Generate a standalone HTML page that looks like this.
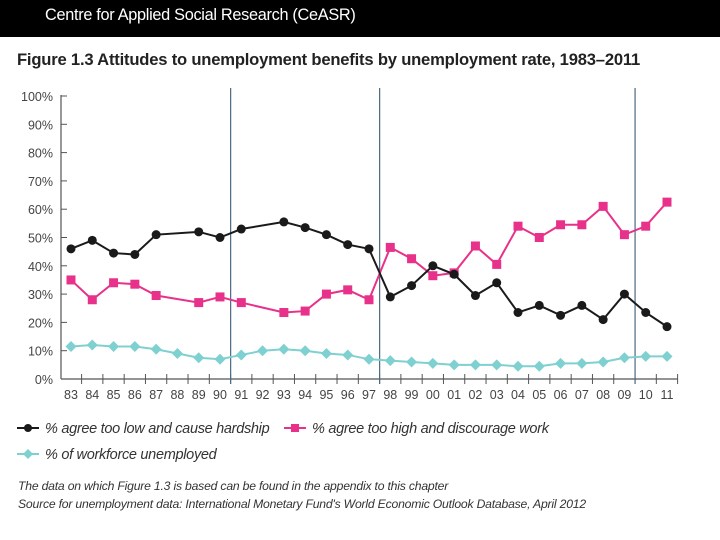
<!DOCTYPE html>
<html><head><meta charset="utf-8"><style>
body{margin:0;width:720px;height:540px;background:#fff;overflow:hidden;position:relative;font-family:"Liberation Sans",sans-serif}
#hdr{position:absolute;left:0;top:0;width:720px;height:37px;background:#000;color:#fff;font-size:16.3px}
#hdr span{position:absolute;left:45px;top:6px;letter-spacing:-0.3px}
#title{position:absolute;left:17px;top:50px;font-size:16.6px;font-weight:bold;color:#222;letter-spacing:-0.2px}
.note{position:absolute;left:18px;font-size:12.2px;font-style:italic;color:#333;letter-spacing:-0.2px}
</style></head><body>
<div id="hdr"><span>Centre for Applied Social Research (CeASR)</span></div>
<div id="title">Figure 1.3 Attitudes to unemployment benefits by unemployment rate, 1983–2011</div>
<svg id="chart" width="720" height="540" style="position:absolute;left:0;top:0"></svg>
<div class="note" style="top:479px">The data on which Figure 1.3 is based can be found in the appendix to this chapter</div>
<div class="note" style="top:497px">Source for unemployment data: International Monetary Fund's World Economic Outlook Database, April 2012</div>
<script>
const years=["83","84","85","86","87","88","89","90","91","92","93","94","95","96","97","98","99","00","01","02","03","04","05","06","07","08","09","10","11"];
const yTicks=[0,10,20,30,40,50,60,70,80,90,100];
const hardship=[46,49,44.5,44,51,null,52,50,53,null,55.5,53.5,51,47.5,46,29,33,40,37,29.5,34,23.5,26,22.5,26,21,30,23.5,18.5];
const tooHigh=[35,28,34,33.5,29.5,null,27,29,27,null,23.5,24,30,31.5,28,46.5,42.5,36.5,37.5,47,40.5,54,50,54.5,54.5,61,51,54,62.5];
const unemployed=[11.5,12,11.5,11.5,10.5,9,7.5,7,8.5,10,10.5,10,9,8.5,7,6.5,6,5.5,5,5,5,4.5,4.5,5.5,5.5,6,7.5,8,8];
const dividers=[7.5,14.5,26.5];
const NS="http://www.w3.org/2000/svg";
const svg=document.getElementById('chart');
const X=i=>71+i*(667-71)/28;
const Y=v=>379-v*2.83;
function mk(t,a,p){const e=document.createElementNS(NS,t);for(const k in a)e.setAttribute(k,a[k]);(p||svg).appendChild(e);return e;}
let ax=mk('line',{x1:61,y1:95,x2:61,y2:379,stroke:'#555','stroke-width':1.2});


let bx=mk('line',{x1:61,y1:379,x2:678,y2:379,stroke:'#555','stroke-width':1.2});


yTicks.forEach(v=>{
  let t=mk('line',{x1:61,y1:Y(v),x2:67,y2:Y(v),stroke:'#555'});
  
  
  let l=mk('text',{x:53,y:Y(v)+5,'text-anchor':'end','font-size':12.5,fill:'#444','font-family':'Liberation Sans'});
  l.textContent=v+'%';
  
  
});
years.forEach((y,i)=>{
  let t=mk('line',{x1:X(i)+10.6,y1:374,x2:X(i)+10.6,y2:384,stroke:'#555'});
  
  
  let l=mk('text',{x:X(i),y:399,'text-anchor':'middle','font-size':12.5,fill:'#444','font-family':'Liberation Sans'});
  l.textContent=y;
  
  
});
dividers.forEach(d=>{
  let l=mk('line',{x1:X(d),y1:88,x2:X(d),y2:384,stroke:'#4a6a80','stroke-width':1.2});
  
  
});
function series(data,color,shape,name){
  const pts=[];data.forEach((v,i)=>{if(v!=null)pts.push([X(i),Y(v)]);});
  let p=mk('polyline',{points:pts.map(p=>p.join(',')).join(' '),fill:'none',stroke:color,'stroke-width':2});
  
  
  pts.forEach(([x,y])=>{
    let m;
    if(shape==='c')m=mk('circle',{cx:x,cy:y,r:4.5,fill:color});
    else if(shape==='s')m=mk('rect',{x:x-4.5,y:y-4.5,width:9,height:9,fill:color});
    else m=mk('polygon',{points:`${x},${y-5.5} ${x+5.5},${y} ${x},${y+5.5} ${x-5.5},${y}`,fill:color});
    
    
  });
}
series(unemployed,'#7fd0d0','d','unemployed');
series(tooHigh,'#e8318a','s','too-high');
series(hardship,'#1a1a1a','c','hardship');
function leg(x,y,color,shape,label,name){
  let g=mk('g',{});
  
  
  mk('line',{x1:x,y1:y,x2:x+22,y2:y,stroke:color,'stroke-width':2},g);
  if(shape==='c')mk('circle',{cx:x+11,cy:y,r:4,fill:color},g);
  else if(shape==='s')mk('rect',{x:x+7,y:y-4,width:8,height:8,fill:color},g);
  else mk('polygon',{points:`${x+11},${y-5} ${x+16},${y} ${x+11},${y+5} ${x+6},${y}`,fill:color},g);
  let t=mk('text',{x:x+28,y:y+5,'font-size':14.5,fill:'#333','font-style':'italic','font-family':'Liberation Sans','letter-spacing':'-0.3'},g);
  t.textContent=label;
}
leg(17,428,'#1a1a1a','c','% agree too low and cause hardship','legend-hardship');
leg(284,428,'#e8318a','s','% agree too high and discourage work','legend-too-high');
leg(17,454,'#7fd0d0','d','% of workforce unemployed','legend-unemployed');
</script>
</body></html>
